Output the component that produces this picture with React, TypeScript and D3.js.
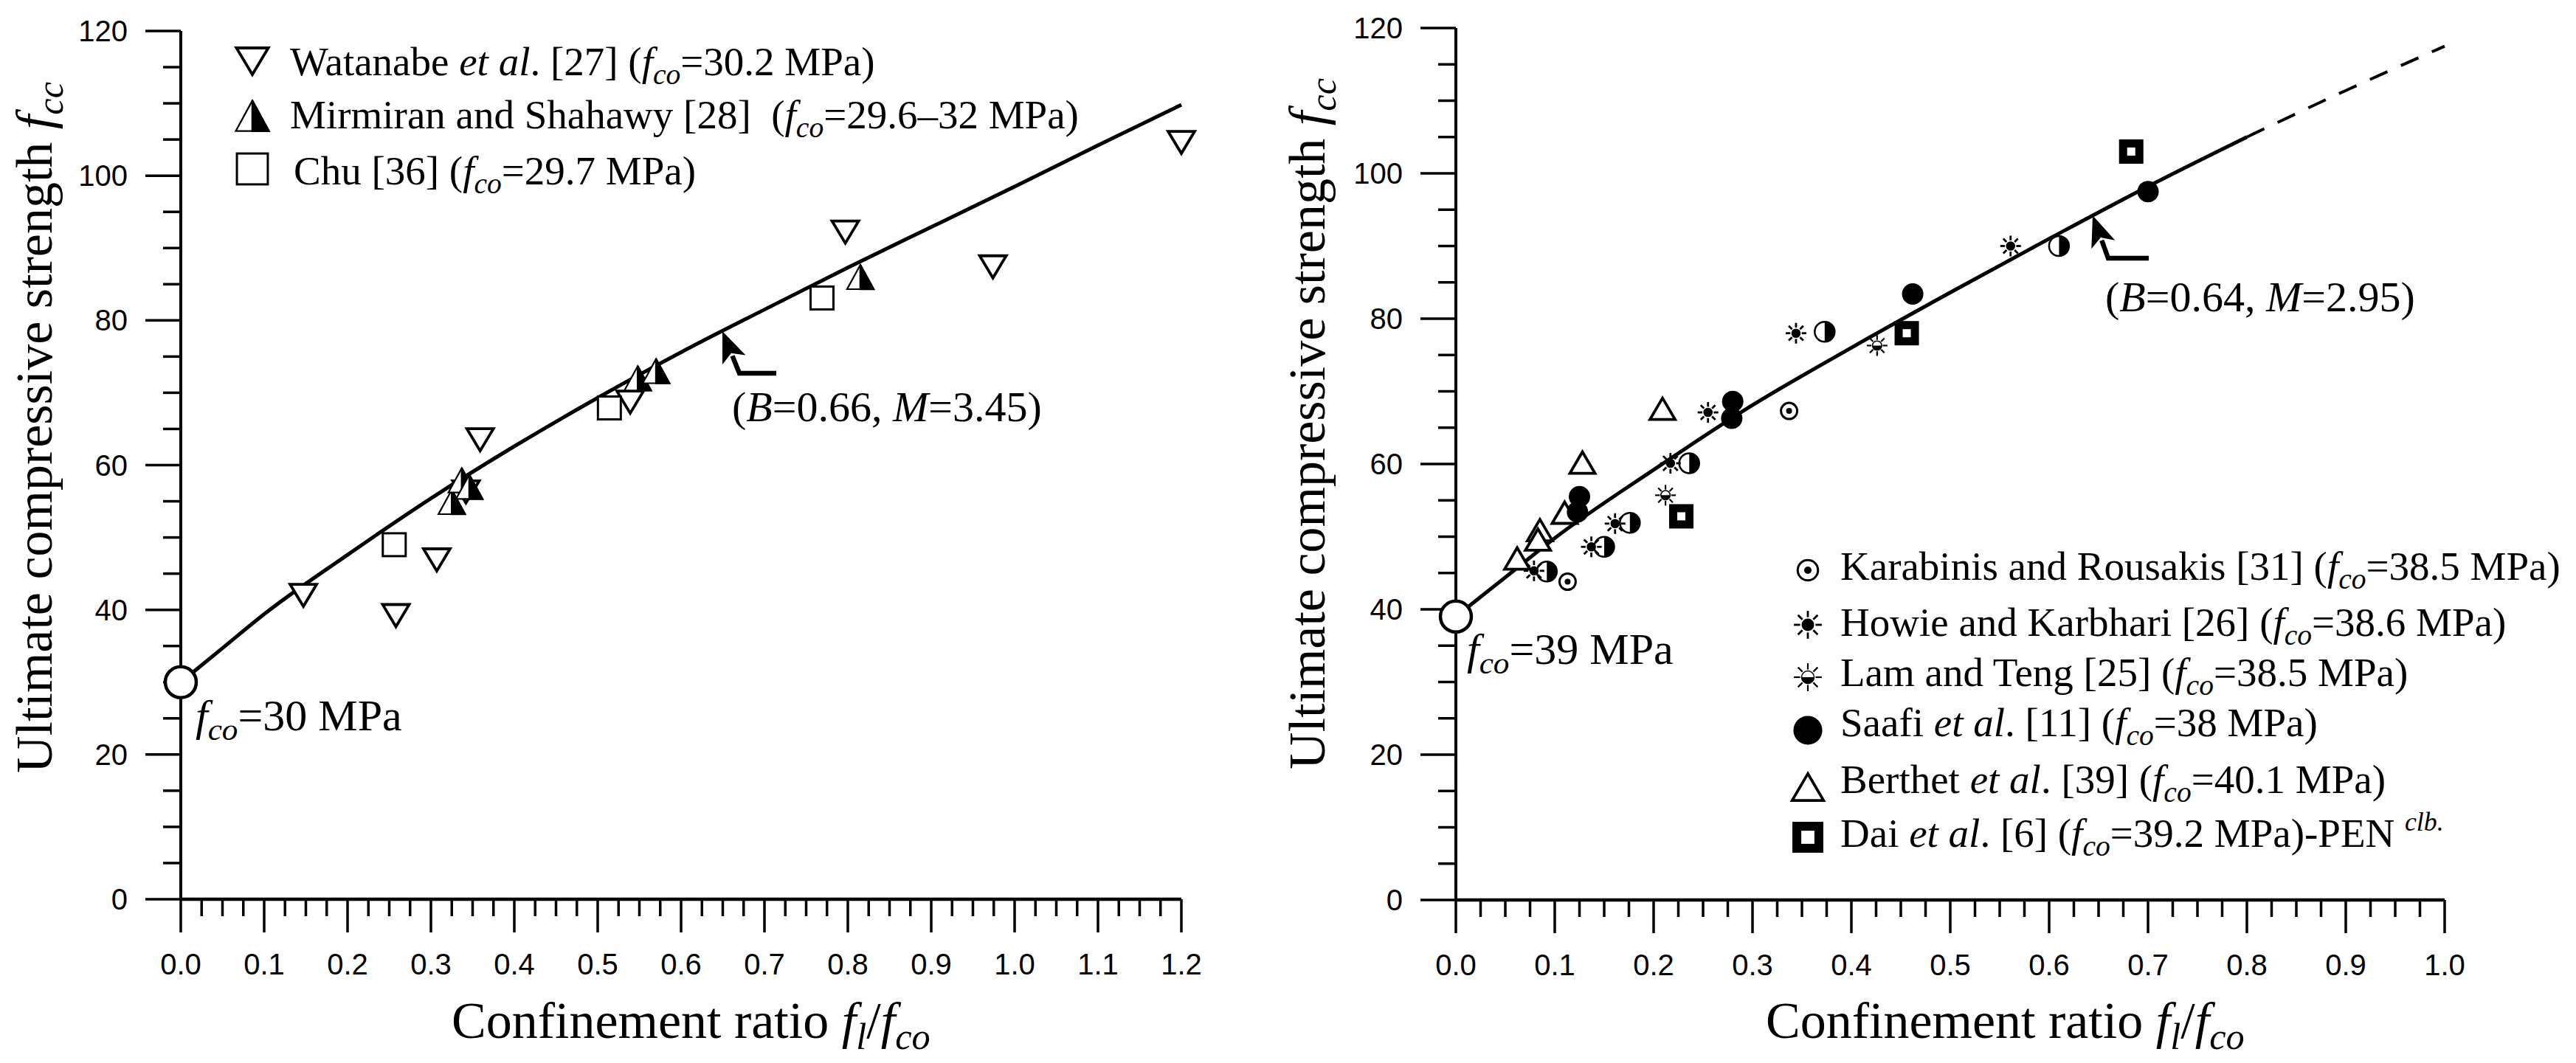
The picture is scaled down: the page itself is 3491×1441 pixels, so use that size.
import React from "react";
import * as d3 from "d3";

// ---------------- Left panel data ----------------
const leftXTicks = [0, 0.1, 0.2, 0.3, 0.4, 0.5, 0.6, 0.7, 0.8, 0.9, 1.0, 1.1, 1.2];
const yTicks = [0, 20, 40, 60, 80, 100, 120];
const leftFco = 30;
const watanabe: [number, number][] = [
  [0.147, 42.0], [0.258, 39.2], [0.307, 46.9], [0.342, 56.3], [0.359, 63.5],
  [0.539, 68.7], [0.797, 92.2], [0.974, 87.4], [1.2, 104.6],
];
const mirmiran: [number, number][] = [
  [0.325, 54.9], [0.337, 57.9], [0.346, 57.0], [0.548, 72.0], [0.570, 73.0], [0.815, 86.0],
];
const chu: [number, number][] = [
  [0.256, 49.0], [0.514, 67.9], [0.769, 83.1],
];
const leftCurveX = [0, 0.05, 0.1, 0.2, 0.3, 0.4, 0.5, 0.6, 0.7, 0.8, 0.9, 1.0, 1.1, 1.2];
const leftCurveY = [30, 34.7, 39.4, 47.6, 55.4, 62.6, 69.3, 75.6, 81.5, 87.3, 92.9, 98.5, 104.2, 109.8];

// ---------------- Right panel data ----------------
const rightXTicks = [0, 0.1, 0.2, 0.3, 0.4, 0.5, 0.6, 0.7, 0.8, 0.9, 1.0];
const rightFco = 39;
const karabinis: [number, number][] = [[0.113, 43.8], [0.337, 67.3]];
const howie: [number, number][] = [
  [0.079, 45.3], [0.137, 48.6], [0.161, 51.8], [0.217, 60.1], [0.255, 67.1], [0.344, 78.0], [0.561, 90.0],
];
const lamTeng: [number, number][] = [[0.212, 55.7], [0.426, 76.3]];
const halfCircles: [number, number][] = [
  [0.092, 45.2], [0.150, 48.6], [0.176, 51.9], [0.236, 60.1], [0.373, 78.2], [0.610, 90.0],
];
const saafi: [number, number][] = [
  [0.125, 55.5], [0.123, 53.4], [0.280, 68.6], [0.279, 66.3], [0.462, 83.4], [0.700, 97.5],
];
const berthet: [number, number][] = [
  [0.062, 47.0], [0.085, 50.9], [0.083, 49.6], [0.110, 53.3], [0.128, 60.2], [0.209, 67.6],
];
const dai: [number, number][] = [[0.228, 52.8], [0.456, 78.0], [0.683, 103.0]];
const rightCurveX = [0, 0.05, 0.1, 0.2, 0.3, 0.4, 0.5, 0.6, 0.7, 0.8];
const rightCurveY = [39, 44.4, 49.8, 59.2, 68.1, 76.0, 83.6, 91.0, 98.2, 105.0];
const rightDashX = [0.8, 0.9, 1.0];
const rightDashY = [105.0, 111.4, 117.5];

// ---------------- Text content ----------------
type Part = [string, "n" | "i" | "s" | "p"];
const NB = "\u00A0";
const leftLegend: { m: string; parts: Part[] }[] = [
  { m: "down", parts: [["Watanabe ", "n"], ["et al", "i"], [". [27] (", "n"], ["f", "i"], ["co", "s"], ["=30.2 MPa)", "n"]] },
  { m: "halfTri", parts: [["Mirmiran and Shahawy [28] " + NB + "(", "n"], ["f", "i"], ["co", "s"], ["=29.6–32 MPa)", "n"]] },
  { m: "sq", parts: [["Chu [36] (", "n"], ["f", "i"], ["co", "s"], ["=29.7 MPa)", "n"]] },
];
const rightLegend: { m: string; parts: Part[] }[] = [
  { m: "kara", parts: [["Karabinis and Rousakis [31] (", "n"], ["f", "i"], ["co", "s"], ["=38.5 MPa)", "n"]] },
  { m: "howie", parts: [["Howie and Karbhari [26] (", "n"], ["f", "i"], ["co", "s"], ["=38.6 MPa)", "n"]] },
  { m: "lam", parts: [["Lam and Teng [25] (", "n"], ["f", "i"], ["co", "s"], ["=38.5 MPa)", "n"]] },
  { m: "saafi", parts: [["Saafi ", "n"], ["et al", "i"], [". [11] (", "n"], ["f", "i"], ["co", "s"], ["=38 MPa)", "n"]] },
  { m: "tri", parts: [["Berthet ", "n"], ["et al", "i"], [". [39] (", "n"], ["f", "i"], ["co", "s"], ["=40.1 MPa)", "n"]] },
  { m: "dai", parts: [["Dai ", "n"], ["et al", "i"], [". [6] (", "n"], ["f", "i"], ["co", "s"], ["=39.2 MPa)-PEN" + NB, "n"], ["clb.", "p"]] },
];
const xTitleParts: Part[] = [["Confinement ratio ", "n"], ["f", "i"], ["l", "s"], ["/", "n"], ["f", "i"], ["co", "s"]];
const yTitleParts: Part[] = [["Ultimate compressive strength ", "n"], ["f", "i"], ["cc", "s"]];

const SERIF = "'Liberation Serif', 'Times New Roman', Times, serif";
const SANS = "'Liberation Sans', Arial, Helvetica, sans-serif";

function RichText({ parts, fs }: { parts: Part[]; fs: number }) {
  const out: React.ReactNode[] = [];
  let shift = 0;
  parts.forEach((p, i) => {
    const [t, s] = p;
    let target = 0;
    let size = fs;
    let italic = false;
    if (s === "i") italic = true;
    if (s === "s") { italic = true; size = fs * 0.72; target = fs * 0.22; }
    if (s === "p") { italic = true; size = fs * 0.65; target = -fs * 0.4; }
    const dy = target - shift;
    shift = target;
    out.push(
      <tspan key={i} fontSize={size} fontStyle={italic ? "italic" : "normal"} dy={dy}>{t}</tspan>
    );
  });
  return <>{out}</>;
}

function Marker({ t, cx, cy, k = 1 }: { t: string; cx: number; cy: number; k?: number }) {
  switch (t) {
    case "down": {
      const w = 36 * k, h = 30 * k;
      return <path d={`M${cx - w / 2},${cy - h / 2}L${cx + w / 2},${cy - h / 2}L${cx},${cy + h / 2}Z`} fill="#fff" stroke="#000" strokeWidth={3.8} strokeLinejoin="miter" />;
    }
    case "halfTri": {
      const w = 36 * k, h = 33 * k;
      return (
        <g>
          <path d={`M${cx},${cy - h / 2}L${cx - w / 2},${cy + h / 2}L${cx + w / 2},${cy + h / 2}Z`} fill="#fff" stroke="#000" strokeWidth={2.2} />
          <path d={`M${cx},${cy - h / 2}L${cx},${cy + h / 2}L${cx + w / 2},${cy + h / 2}Z`} fill="#000" stroke="#000" strokeWidth={2.5} />
        </g>
      );
    }
    case "sq": {
      const s = 31 * k;
      return <rect x={cx - s / 2} y={cy - s / 2} width={s} height={s} fill="#fff" stroke="#000" strokeWidth={3} />;
    }
    case "kara": {
      return (
        <g>
          <circle cx={cx} cy={cy} r={11 * k} fill="#fff" stroke="#000" strokeWidth={3} />
          <circle cx={cx} cy={cy} r={4 * k} fill="#000" />
        </g>
      );
    }
    case "howie":
    case "lam": {
      const R = 14 * k;
      const spokes = d3.range(8).map((i) => {
        const a = (i * Math.PI) / 4;
        return (
          <line key={i} x1={cx + Math.cos(a) * R * 0.55} y1={cy + Math.sin(a) * R * 0.55}
            x2={cx + Math.cos(a) * R} y2={cy + Math.sin(a) * R}
            stroke="#000" strokeWidth={t === "howie" ? 2.8 : 2.2} />
        );
      });
      const rc = R * 0.45;
      return (
        <g>
          {spokes}
          {t === "howie" ? (
            <circle cx={cx} cy={cy} r={rc} fill="#000" />
          ) : (
            <g>
              <circle cx={cx} cy={cy} r={rc} fill="#fff" stroke="#000" strokeWidth={1.5} />
              <path d={`M${cx - rc},${cy}A${rc},${rc} 0 0 0 ${cx + rc},${cy}Z`} fill="#000" />
            </g>
          )}
        </g>
      );
    }
    case "saafi":
      return <circle cx={cx} cy={cy} r={14.5 * k} fill="#000" />;
    case "half": {
      const r = 13.5 * k;
      return (
        <g>
          <circle cx={cx} cy={cy} r={r} fill="#fff" stroke="#000" strokeWidth={2.5} />
          <path d={`M${cx},${cy - r}A${r},${r} 0 0 1 ${cx},${cy + r}Z`} fill="#000" />
        </g>
      );
    }
    case "tri": {
      const w = 34 * k, h = 29 * k;
      return <path d={`M${cx},${cy - h / 2}L${cx - w / 2},${cy + h / 2}L${cx + w / 2},${cy + h / 2}Z`} fill="#fff" stroke="#000" strokeWidth={3.8} />;
    }
    case "dai": {
      const s = 33 * k, inner = 11 * k * k;
      return (
        <g>
          <rect x={cx - s / 2} y={cy - s / 2} width={s} height={s} fill="#000" />
          <rect x={cx - inner / 2} y={cy - inner / 2} width={inner} height={inner} fill="#fff" />
        </g>
      );
    }
    case "origin":
      return <circle cx={cx} cy={cy} r={21} fill="#fff" stroke="#000" strokeWidth={4.5} />;
    default:
      return null;
  }
}

type AxesProps = {
  x: d3.ScaleLinear<number, number>;
  y: d3.ScaleLinear<number, number>;
  xTicks: number[];
  xMax: number;
};

function Axes({ x, y, xTicks, xMax }: AxesProps) {
  const x0 = x(0), y0 = y(0);
  const majorLen = 45, minorLen = 23;
  const xMinor = d3.range(0, Math.round(xMax / 0.025) + 1).map((i) => i * 0.025).filter((_, i) => i % 4 !== 0);
  const yMinor = d3.range(0, 25).map((i) => i * 5).filter((v) => v % 20 !== 0);
  return (
    <g stroke="#000">
      <line x1={x0} x2={x(xMax)} y1={y0} y2={y0} strokeWidth={4.5} />
      <line x1={x0} x2={x0} y1={y0} y2={y(120)} strokeWidth={4} />
      {xTicks.map((v) => (
        <line key={"xm" + v} x1={x(v)} x2={x(v)} y1={y0} y2={y0 + majorLen} strokeWidth={3.5} />
      ))}
      {xMinor.map((v) => (
        <line key={"xn" + v} x1={x(v)} x2={x(v)} y1={y0} y2={y0 + minorLen} strokeWidth={3.5} />
      ))}
      {yTicks.map((v) => (
        <line key={"ym" + v} x1={x0 - majorLen - 3} x2={x0} y1={y(v)} y2={y(v)} strokeWidth={3.5} />
      ))}
      {yMinor.map((v) => (
        <line key={"yn" + v} x1={x0 - minorLen - 1} x2={x0} y1={y(v)} y2={y(v)} strokeWidth={3.5} />
      ))}
      <g stroke="none" fill="#000" fontFamily={SANS} fontSize={40}>
        {xTicks.map((v) => (
          <text key={"xl" + v} x={x(v)} y={y0 + 102} textAnchor="middle">{d3.format(".1f")(v)}</text>
        ))}
        {yTicks.map((v) => (
          <text key={"yl" + v} x={x0 - 72} y={y(v) + 14} textAnchor="end">{v}</text>
        ))}
      </g>
    </g>
  );
}

function Arrow({ tip, elbow, end }: { tip: [number, number]; elbow: [number, number]; end: [number, number] }) {
  const dx = tip[0] - elbow[0], dy = tip[1] - elbow[1];
  const len = Math.hypot(dx, dy);
  const ux = dx / len, uy = dy / len;
  const hl = 42, hw = 17;
  const bx = tip[0] - ux * hl, by = tip[1] - uy * hl;
  const px = -uy, py = ux;
  return (
    <g>
      <path d={`M${end[0]},${end[1]}L${elbow[0]},${elbow[1]}L${bx + ux * 6},${by + uy * 6}`} fill="none" stroke="#000" strokeWidth={6.5} />
      <path d={`M${tip[0]},${tip[1]}L${bx + px * hw},${by + py * hw}L${bx + ux * 10},${by + uy * 10}L${bx - px * hw},${by - py * hw}Z`} fill="#000" />
    </g>
  );
}

export default function App() {
  const W = 3491, H = 1441;
  const xL = d3.scaleLinear().domain([0, 1.2]).range([245, 1601]);
  const yL = d3.scaleLinear().domain([0, 120]).range([1219, 42]);
  const xR = d3.scaleLinear().domain([0, 1.0]).range([1973, 3313]);
  const yR = d3.scaleLinear().domain([0, 120]).range([1220, 38]);

  const lineL = d3.line<number>().x((_, i) => xL(leftCurveX[i])).y((v) => yL(v)).curve(d3.curveMonotoneX);
  const lineR = d3.line<number>().x((_, i) => xR(rightCurveX[i])).y((v) => yR(v)).curve(d3.curveMonotoneX);
  const lineRd = d3.line<number>().x((_, i) => xR(rightDashX[i])).y((v) => yR(v)).curve(d3.curveMonotoneX);

  const pts = (data: [number, number][], t: string, x: any, y: any) =>
    data.map((d, i) => <Marker key={t + i} t={t} cx={x(d[0])} cy={y(d[1])} />);

  const leftLegendY = [83, 157, 229];
  const leftLegendBase = [102, 174, 250];
  const leftLegendTextX = [393, 393, 398];
  const rightLegendY = [773, 847, 918, 990, 1067, 1135];
  const rightLegendBase = [786, 862, 930, 998, 1075, 1148];
  const rightLegendK: Record<string, number> = { kara: 1.25, howie: 1.35, lam: 1.35, saafi: 1.35, tri: 1.25, dai: 1.27 };

  return (
    <svg width={W} height={H} viewBox={`0 0 ${W} ${H}`} style={{ position: "absolute", left: 0, top: 0, background: "#fff" }}>
      <rect x={0} y={0} width={W} height={H} fill="#fff" />

      {/* ---------- Left panel ---------- */}
      <Axes x={xL} y={yL} xTicks={leftXTicks} xMax={1.2} />
      <path d={lineL(leftCurveY) || ""} fill="none" stroke="#000" strokeWidth={5} />
      {pts(watanabe, "down", xL, yL)}
      {pts(chu, "sq", xL, yL)}
      {pts(mirmiran, "halfTri", xL, yL)}
      <Marker t="origin" cx={xL(0)} cy={yL(leftFco)} />
      <Arrow tip={[979, 449]} elbow={[1002, 506]} end={[1052, 506]} />
      <g fontFamily={SERIF} fill="#000" style={{ whiteSpace: "pre" }}>
        <text x={992} y={571} fontSize={58}>
          <RichText fs={58} parts={[["(", "n"], ["B", "i"], ["=0.66, ", "n"], ["M", "i"], ["=3.45)", "n"]]} />
        </text>
        <text x={265} y={990} fontSize={60}>
          <RichText fs={60} parts={[["f", "i"], ["co", "s"], ["=30 MPa", "n"]]} />
        </text>
        {leftLegend.map((e, i) => (
          <g key={"ll" + i}>
            <Marker t={e.m} cx={342} cy={leftLegendY[i]} k={e.m === "down" ? 1.2 : e.m === "halfTri" ? 1.25 : 1.35} />
            <text x={leftLegendTextX[i]} y={leftLegendBase[i]} fontSize={55}>
              <RichText fs={55} parts={e.parts} />
            </text>
          </g>
        ))}
        <text x={612} y={1407} fontSize={70}>
          <RichText fs={70} parts={xTitleParts} />
        </text>
        <text transform={`translate(70,1048) rotate(-90)`} fontSize={70}>
          <RichText fs={70} parts={yTitleParts} />
        </text>
      </g>

      {/* ---------- Right panel ---------- */}
      <Axes x={xR} y={yR} xTicks={rightXTicks} xMax={1.0} />
      <path d={lineR(rightCurveY) || ""} fill="none" stroke="#000" strokeWidth={5} />
      <path d={lineRd(rightDashY) || ""} fill="none" stroke="#000" strokeWidth={4} strokeDasharray="26 20" />
      {pts(halfCircles, "half", xR, yR)}
      {pts(berthet, "tri", xR, yR)}
      {pts(karabinis, "kara", xR, yR)}
      {pts(howie, "howie", xR, yR)}
      {pts(lamTeng, "lam", xR, yR)}
      {pts(saafi, "saafi", xR, yR)}
      {pts(dai, "dai", xR, yR)}
      <Marker t="origin" cx={xR(0)} cy={yR(rightFco)} />
      <Arrow tip={[2836, 292]} elbow={[2857, 350]} end={[2912, 350]} />
      <g fontFamily={SERIF} fill="#000" style={{ whiteSpace: "pre" }}>
        <text x={2853} y={422} fontSize={58}>
          <RichText fs={58} parts={[["(", "n"], ["B", "i"], ["=0.64, ", "n"], ["M", "i"], ["=2.95)", "n"]]} />
        </text>
        <text x={1988} y={900} fontSize={60}>
          <RichText fs={60} parts={[["f", "i"], ["co", "s"], ["=39 MPa", "n"]]} />
        </text>
        {rightLegend.map((e, i) => (
          <g key={"rl" + i}>
            <Marker t={e.m} cx={2450} cy={rightLegendY[i]} k={rightLegendK[e.m]} />
            <text x={2494} y={rightLegendBase[i]} fontSize={55}>
              <RichText fs={55} parts={e.parts} />
            </text>
          </g>
        ))}
        <text x={2393} y={1407} fontSize={70}>
          <RichText fs={70} parts={xTitleParts} />
        </text>
        <text transform={`translate(1795,1043) rotate(-90)`} fontSize={70}>
          <RichText fs={70} parts={yTitleParts} />
        </text>
      </g>
    </svg>
  );
}
